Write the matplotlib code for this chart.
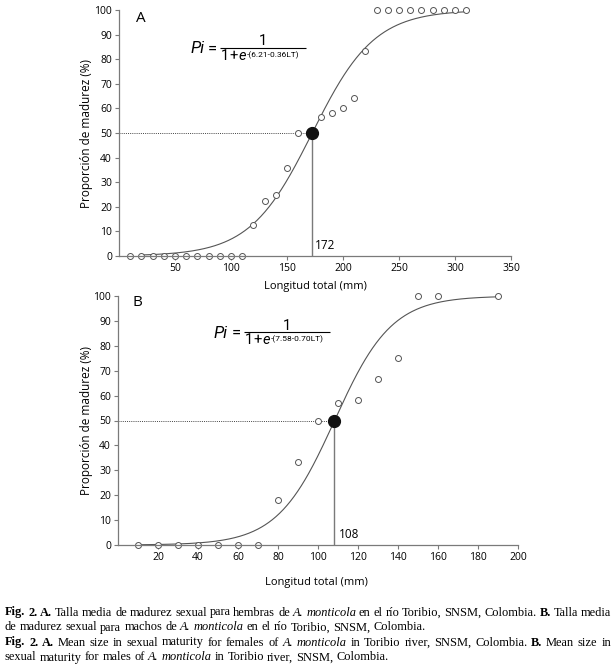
import numpy as np
import matplotlib
matplotlib.use('Agg')
import matplotlib.pyplot as plt

# Panel A: hembras
lt_a = [10, 20, 30, 40, 50, 60, 70, 80, 90, 100, 110,
        120, 130, 140, 150, 160, 170, 180, 190, 200, 210, 220,
        230, 240, 250, 260, 270, 280, 290, 300, 310]
pm_a = [0, 0, 0, 0, 0, 0, 0, 0, 0, 0, 0,
        12.5, 22.2, 25.0, 35.7, 50.0, 50.0, 56.5, 58.3, 60.0, 64.3, 83.3,
        100, 100, 100, 100, 100, 100, 100, 100, 100]
coef_a = (6.21, 0.36)   # Pi = 1 / (1 + e^-(6.21 - 0.36 LT)), LT en cm
l50_a = 172

# Panel B: machos
lt_b = [10, 20, 30, 40, 50, 60, 70, 80, 90, 100, 110, 120, 130, 140, 150, 160, 190]
pm_b = [0, 0, 0, 0, 0, 0, 0, 18.2, 33.3, 50.0, 57.1, 58.3, 66.7, 75.0, 100, 100, 100]
coef_b = (7.58, 0.70)
l50_b = 108

W, H, DPI = 616, 667, 100
plt.rcParams['font.family'] = ['Open Sans', 'DejaVu Sans']

fig = plt.figure(figsize=(W / DPI, H / DPI), dpi=DPI)
ax_a = fig.add_axes([119 / W, 1 - 256 / H, 392 / W, 246 / H])
ax_b = fig.add_axes([118 / W, 1 - 545 / H, 400 / W, 249 / H])

gray = '#7a7a7a'
PT = 72 / DPI  # points per pixel


def equation(ax, x0, y0, a, b, px_per_unit):
    # fraction bar, then texts placed around it (offsets in pixels)
    ax.plot([x0, x0 + 86 / px_per_unit], [y0, y0], color='black', lw=0.8,
            solid_capstyle='butt', zorder=5)

    def put(dx, dy, s, fs, ha='left', style='normal'):
        ax.annotate(s, xy=(x0, y0), xytext=(dx * PT, dy * PT), textcoords='offset points',
                    fontsize=fs, ha=ha, va='baseline', family='Roboto', fontstyle=style)
    put(-16, -5.5, 'Pi', 12, ha='right', style='italic')
    put(-8, -5.5, '=', 12, ha='center')
    put(43, 2.5, '1', 10.5, ha='center')
    put(4.5, -12, '1', 10.5, ha='center')
    put(14, -12, '+', 10.5, ha='center')
    put(22.5, -12, 'e', 10.5, ha='center', style='italic')
    put(27, -9.5, '-(%.2f-%.2fLT)' % (a, b), 6)


def panel(ax, lt, pm, coef, l50, xmax, xticks, curve_rng, letter, letter_pos, eq_pos):
    a, b = coef
    x = np.linspace(curve_rng[0], curve_rng[1], 400)
    ax.plot(x, 100 / (1 + np.exp(a - b * x / 10)), color='#555555', lw=0.8, zorder=2)
    ax.plot([0, l50], [50, 50], ls=(0, (1, 1.2)), color='#444444', lw=0.7, zorder=1)
    ax.plot([l50, l50], [0, 50], color=gray, lw=1.0, zorder=1)
    ax.plot(lt, pm, 'o', ms=4.3, mfc='white', mec='#555555', mew=0.7,
            clip_on=False, zorder=3)
    ax.plot([l50], [50], 'o', ms=8.5, color='#111111', clip_on=False, zorder=4)
    ax.text(l50 + 2.5, 1.5, str(l50), fontsize=8.5, ha='left', va='bottom')
    ax.text(letter_pos[0], letter_pos[1], letter, fontsize=11, ha='center', va='center')

    ax.set_xlim(0, xmax)
    ax.set_ylim(0, 100)
    ax.set_xticks(xticks)
    ax.set_yticks(range(0, 101, 10))
    for s in ['top', 'right']:
        ax.spines[s].set_visible(False)
    for s in ['left', 'bottom']:
        ax.spines[s].set_color(gray)
        ax.spines[s].set_linewidth(0.9)
        ax.spines[s].set_zorder(3.5)
    ax.tick_params(direction='out', length=3, width=0.8, color=gray,
                   labelsize=7.5, pad=2)
    ax.set_xlabel('Longitud total (mm)', fontsize=8)
    ax.set_ylabel('Proporción de madurez (%)', fontsize=8.5)
    px_per_unit = ax.get_position().width * W / xmax
    equation(ax, eq_pos[0], eq_pos[1], a, b, px_per_unit)


panel(ax_a, lt_a, pm_a, coef_a, l50_a, 350, [50, 100, 150, 200, 250, 300, 350],
      (20, 310), 'A', (19.5, 96.5), (90.2, 84.6))
panel(ax_b, lt_b, pm_b, coef_b, l50_b, 200, [20, 40, 60, 80, 100, 120, 140, 160, 180, 200],
      (10, 190), 'B', (9.5, 97.5), (63, 85.5))
ax_a.xaxis.set_label_coords(0.5, -0.10)
ax_a.yaxis.set_label_coords(-0.066, 0.5)
ax_b.xaxis.set_label_coords(0.495, -0.128)
ax_b.yaxis.set_label_coords(-0.0625, 0.5)

# caption
cap_lines = [
    ([('Fig. 2. A.', 'bold'), ('Talla media de madurez sexual para hembras de', 'normal'),
      ('A. monticola', 'italic'), ('en el río Toribio, SNSM, Colombia.', 'normal'),
      ('B.', 'bold'), ('Talla media', 'normal')], True),
    ([('de madurez sexual para machos de', 'normal'), ('A. monticola', 'italic'),
      ('en el río Toribio, SNSM, Colombia.', 'normal')], False),
    ([('Fig. 2. A.', 'bold'), ('Mean size in sexual maturity for females of', 'normal'),
      ('A. monticola', 'italic'), ('in Toribio river, SNSM, Colombia.', 'normal'),
      ('B.', 'bold'), ('Mean size in', 'normal')], True),
    ([('sexual maturity for males of', 'normal'), ('A. monticola', 'italic'),
      ('in Toribio river, SNSM, Colombia.', 'normal')], False),
]
cap_y = [611, 626, 641, 656]
cap_fs = 8.9
x_left, x_right = 5, 611
renderer = fig.canvas.get_renderer()
for (segs, justify), y in zip(cap_lines, cap_y):
    arts = []
    for txt, style in segs:
        for w in txt.split():
            arts.append(fig.text(0, 1 - y / H, w, fontsize=cap_fs, family='Liberation Serif',
                                 fontweight='bold' if style == 'bold' else 'normal',
                                 fontstyle='italic' if style == 'italic' else 'normal',
                                 va='center_baseline', ha='left'))
    widths = [t.get_window_extent(renderer).width for t in arts]
    space = cap_fs * 0.25 * DPI / 72
    if justify:
        space = (x_right - x_left - sum(widths)) / (len(arts) - 1)
    x = x_left
    for t, wd in zip(arts, widths):
        t.set_x(x / W)
        x += wd + space

fig.savefig('out.png', dpi=DPI)
